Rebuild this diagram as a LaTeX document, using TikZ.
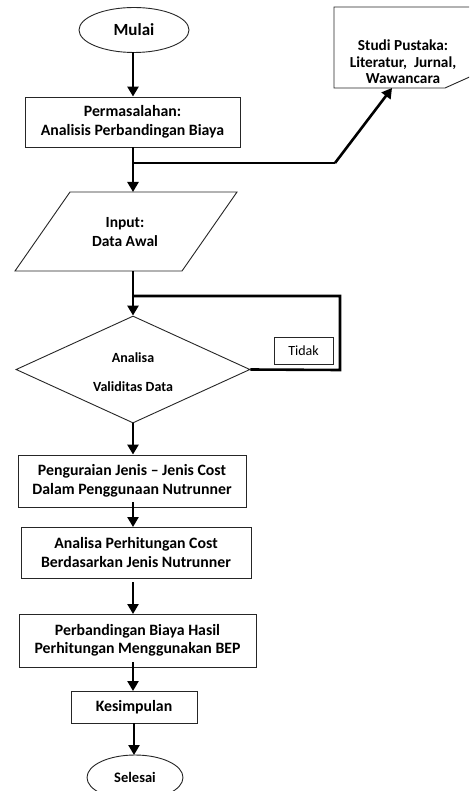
\documentclass[tikz,border=0pt]{standalone}
\usepackage{fontspec}
\setmainfont{Carlito}
\usetikzlibrary{shapes.geometric,arrows.meta}
\begin{document}
\begin{tikzpicture}[x=1pt,y=-1pt,
  box/.style={draw=black!85, line width=0.9pt, rectangle, align=center,
    font=\bfseries\fontsize{15.8}{18.5}\selectfont, inner sep=0pt},
  oval/.style={box, ellipse},
  txt/.style={align=center, font=\bfseries\fontsize{15.5}{18.5}\selectfont, inner sep=0pt},
  ln/.style={line width=2.6pt},
  arr/.style={ln, -{Triangle[length=10pt,width=11pt]}}]
\useasboundingbox (0,0) rectangle (469,791);
\fill[white] (0,0) rectangle (469,791);
\clip (0,0) rectangle (469,791);

% nodes
\node[oval, minimum width=110, minimum height=45, font=\bfseries\fontsize{17}{20}\selectfont] (mulai) at (134,30) {Mulai};
\node[box, minimum width=215, minimum height=50] (perm) at (132.5,122) {Permasalahan:\\Analisis Perbandingan Biaya};

% Studi Pustaka (document shape, cut by the edge)
\draw[draw=black!85, line width=0.9pt] (474,7) -- (334,7) -- (334,88) -- (445,88) -- (474,75);
\node[txt, font=\bfseries\fontsize{15.3}{16.5}\selectfont] (studi) at (403,62) {Studi Pustaka:\\Literatur,\ \ Jurnal,\\Wawancara};
\coordinate (studiIn) at (392,88);

% Input parallelogram
\draw[draw=black!85, line width=0.9pt] (70,192) -- (237,192) -- (182,271) -- (15,271) -- cycle;
\node[txt] (input) at (125,232) {Input:\\Data Awal};
\coordinate (inT) at (133,192);
\coordinate (inB) at (133,271);

% decision
\node[draw=black!85, line width=0.9pt, diamond, minimum width=234, minimum height=107, inner sep=0pt] (valid) at (133,369.5) {};
\node[txt, font=\bfseries\fontsize{14}{17}\selectfont] (validtxt) at (133,372) {Analisa\\[12pt]Validitas Data};
\node[draw=black!85, line width=0.7pt, rectangle, minimum width=59, minimum height=27, inner sep=0pt,
      font=\fontsize{14}{16}\selectfont] (tidak) at (303.5,350.5) {Tidak};

\node[box, minimum width=228, minimum height=52] (peng) at (132,481) {Penguraian Jenis -- Jenis Cost\\Dalam Penggunaan Nutrunner};
\node[box, minimum width=230, minimum height=51] (anal) at (136,552.5) {Analisa Perhitungan Cost\\Berdasarkan Jenis Nutrunner};
\node[box, minimum width=237, minimum height=53] (perb) at (137.5,640.5) {Perbandingan Biaya Hasil\\Perhitungan Menggunakan BEP};
\node[box, minimum width=126, minimum height=32] (kes) at (134,707) {Kesimpulan};
\node[oval, minimum width=96, minimum height=45, font=\bfseries\fontsize{14.5}{17}\selectfont] (sel) at (135,777.5) {Selesai};

% connectors
\coordinate (br) at (133,163);
\coordinate (brk) at (335,163);
\coordinate (lp) at (133,296);
\coordinate (lpR) at (340,296);
\coordinate (vR) at (340,370);

\draw[arr] (133,52) -- (perm.north -| 133,0);
\draw[arr] (perm.south -| 133,0) -- (inT);
\draw[ln] (br) -- (brk);
\draw[arr] (brk) -- (studiIn);
\draw[arr] (inB) -- (valid.north);
\draw[ln] (valid.east) -- (vR) -- (lpR) -- (lp);
\draw[arr] (valid.south) -- (valid.south |- peng.north);
\draw[arr] (133,502) -- (133,527);
\draw[arr] (133,582) -- (133,614);
\draw[arr] (133,662) -- (133,691);
\draw[arr] (134,723) -- (134,755);
\end{tikzpicture}
\end{document}
